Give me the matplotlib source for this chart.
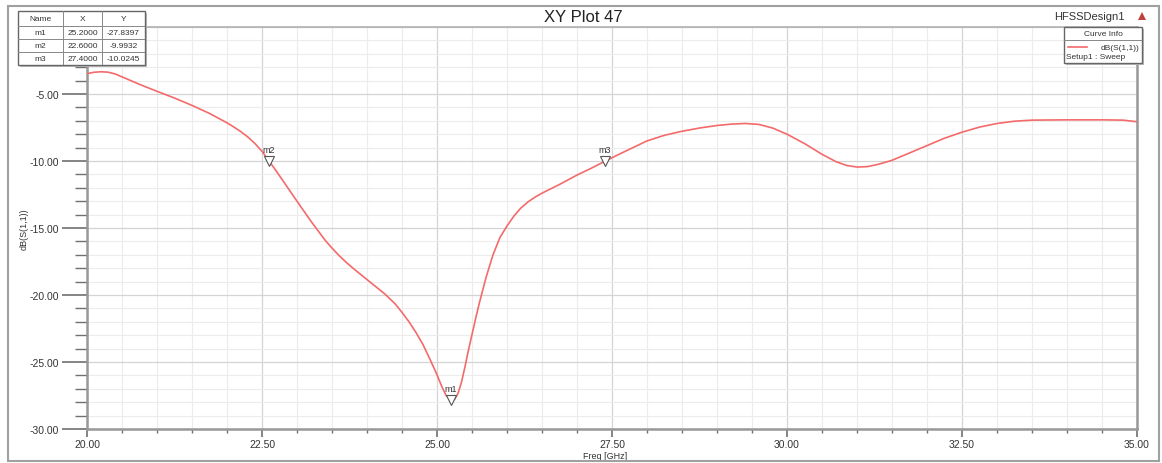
import matplotlib.pyplot as plt
from matplotlib.patches import Rectangle, Polygon
from matplotlib.ticker import MultipleLocator, FuncFormatter

plt.rcParams['font.family'] = ['Liberation Sans', 'DejaVu Sans']

# S11 curve
freq = [20.0, 20.1, 20.2, 20.3, 20.4, 20.5, 20.75, 21.0, 21.25, 21.5, 21.75,
        22.0, 22.1, 22.2, 22.3, 22.4, 22.5, 22.6, 22.7, 22.8, 23.0, 23.2, 23.4,
        23.5, 23.6, 23.7, 23.8, 24.0, 24.25, 24.4, 24.5, 24.6, 24.7, 24.8, 24.9,
        25.0, 25.07, 25.13, 25.2, 25.25, 25.3, 25.35, 25.4, 25.45, 25.5, 25.55,
        25.6, 25.7, 25.8, 25.9, 26.0, 26.1, 26.2, 26.3, 26.4, 26.5, 26.75, 27.0,
        27.2, 27.4, 27.6, 27.8, 28.0, 28.25, 28.5, 28.75, 29.0, 29.2, 29.4, 29.6,
        29.8, 30.0, 30.25, 30.5, 30.7, 30.85, 31.0, 31.15, 31.3, 31.5, 31.75,
        32.0, 32.25, 32.5, 32.75, 33.0, 33.25, 33.5, 34.0, 34.5, 34.8, 35.0]
s11 = [-3.48, -3.38, -3.34, -3.37, -3.5, -3.72, -4.28, -4.8, -5.3, -5.85, -6.45,
       -7.15, -7.47, -7.82, -8.22, -8.7, -9.28, -9.99, -10.72, -11.48, -13.0, -14.5, -15.9,
       -16.5, -17.05, -17.55, -18.0, -18.85, -19.9, -20.65, -21.3, -22.0, -22.8, -23.7, -24.8,
       -25.95, -26.85, -27.5, -27.84, -27.8, -27.35, -26.5, -25.35, -24.1, -22.95, -21.8,
       -20.7, -18.7, -17.0, -15.7, -14.85, -14.1, -13.5, -13.05, -12.7, -12.4, -11.75, -11.05,
       -10.55, -10.02, -9.5, -9.0, -8.5, -8.08, -7.78, -7.54, -7.35, -7.25, -7.2, -7.27,
       -7.55, -8.0, -8.7, -9.5, -10.05, -10.33, -10.45, -10.42, -10.25, -9.95, -9.4,
       -8.85, -8.3, -7.85, -7.47, -7.2, -7.03, -6.95, -6.93, -6.93, -6.95, -7.07]

marker_names = ['m1', 'm2', 'm3']
marker_x = [25.2, 22.6, 27.4]
marker_y = [-27.8397, -9.9932, -10.0245]

W, H = 1162, 464
fig = plt.figure(figsize=(W / 100, H / 100), dpi=100)


def fx(px):
    return px / W


def fy(py):
    return 1 - py / H


# outer frame
fig.patches.append(Rectangle((fx(8), fy(462)), fx(1159) - fx(8), fy(7) - fy(462),
                             transform=fig.transFigure, fill=False,
                             edgecolor='#a0a0a0', linewidth=1.5))

ax = fig.add_axes([fx(87), fy(430), fx(1137) - fx(87), fy(28) - fy(430)])
ax.plot(freq, s11, color='#f46a6a', lw=1.2, zorder=3)

ax.set_xlim(20, 35)
ax.set_ylim(-30, 0)
ax.xaxis.set_major_locator(MultipleLocator(2.5))
ax.xaxis.set_minor_locator(MultipleLocator(0.5))
ax.yaxis.set_major_locator(MultipleLocator(5))
ax.yaxis.set_minor_locator(MultipleLocator(1))
ax.xaxis.set_major_formatter(FuncFormatter(lambda v, p: '%.2f' % v))
ax.yaxis.set_major_formatter(FuncFormatter(lambda v, p: '' if v == 0 else '%.2f' % v))
ax.grid(which='major', color='#d4d4d4', lw=0.9)
ax.grid(which='minor', color='#ececec', lw=0.8)
ax.set_axisbelow(True)

ax.tick_params(axis='y', which='major', length=18, width=1.2, color='#707070',
               labelsize=7.5, labelcolor='#333333', pad=2)
ax.tick_params(axis='y', which='minor', length=9, width=1.0, color='#707070')
ax.tick_params(axis='x', which='major', length=6, width=1.2, color='#707070',
               labelsize=7.5, labelcolor='#333333', pad=1)
ax.tick_params(axis='x', which='minor', length=3, width=1.0, color='#707070')

for side in ['left', 'bottom', 'right']:
    ax.spines[side].set_color('#999999')
    ax.spines[side].set_linewidth(1.8)
ax.spines['top'].set_color('#b0b0b0')
ax.spines['top'].set_linewidth(1.2)

ax.set_ylabel('dB(S(1,1))', fontsize=6.5, color='#333333')
ax.yaxis.set_label_coords(-0.056, 0.5)
ax.set_xlabel('Freq [GHz]', fontsize=6.5, color='#333333')
ax.xaxis.set_label_coords(0.493, -0.055)

# markers
for name, mx, my in zip(marker_names, marker_x, marker_y):
    ax.plot(mx, my, marker='v', markersize=7, markerfacecolor='white',
            markeredgecolor='#555555', markeredgewidth=0.8, zorder=5)
    ax.annotate(name, (mx, my), xytext=(0, 5), textcoords='offset points',
                ha='center', va='bottom', fontsize=6.5, color='#333333', zorder=6)

fig.text(fx(583), fy(17), 'XY Plot 47', ha='center', va='center', fontsize=12,
         color='#222222')
fig.text(fx(1125), fy(17), 'HFSSDesign1', ha='right', va='center', fontsize=8,
         color='#333333')
fig.patches.append(Polygon([[fx(1138), fy(21)], [fx(1146), fy(21)], [fx(1142), fy(13)]],
                           closed=True, transform=fig.transFigure,
                           facecolor='#c04040', edgecolor='none'))

# marker table
tab = fig.add_axes([fx(18), fy(66), fx(145) - fx(18), fy(12) - fy(66)])
tab.set_xlim(18, 145)
tab.set_ylim(66, 12)
tab.axis('off')
tab.add_patch(Rectangle((20, 14), 127, 54, facecolor='#bbbbbb', edgecolor='none',
                        zorder=0, clip_on=False))
tab.add_patch(Rectangle((18, 12), 127, 54, facecolor='white', edgecolor='#666666',
                        lw=1.0, zorder=1, clip_on=False))
col_edges = [18, 63, 102, 145]
row_edges = [12, 27, 40, 53, 66]
for c in col_edges[1:-1]:
    tab.plot([c, c], [12, 66], color='#888888', lw=0.7, zorder=2)
for r in row_edges[1:-1]:
    tab.plot([18, 145], [r, r], color='#888888', lw=0.7, zorder=2)
rows = [['Name', 'X', 'Y']] + [[n, '%.4f' % x, '%.4f' % y]
                               for n, x, y in zip(marker_names, marker_x, marker_y)]
for i, row in enumerate(rows):
    yc = (row_edges[i] + row_edges[i + 1]) / 2
    for j, val in enumerate(row):
        xc = (col_edges[j] + col_edges[j + 1]) / 2
        tab.text(xc, yc, val, ha='center', va='center', fontsize=6,
                 color='#333333', zorder=3)

# curve info legend
leg = fig.add_axes([fx(1064), fy(64), fx(1142) - fx(1064), fy(28) - fy(64)])
leg.set_xlim(1064, 1142)
leg.set_ylim(64, 28)
leg.axis('off')
leg.add_patch(Rectangle((1066, 30), 78, 36, facecolor='#bbbbbb', edgecolor='none',
                        zorder=0, clip_on=False))
leg.add_patch(Rectangle((1064, 28), 78, 36, facecolor='white', edgecolor='#666666',
                        lw=1.0, zorder=1, clip_on=False))
leg.plot([1064, 1142], [41, 41], color='#888888', lw=0.7, zorder=2)
leg.text(1103, 35, 'Curve Info', ha='center', va='center', fontsize=6,
         color='#333333', zorder=3)
leg.plot([1068, 1087], [48, 48], color='#f46a6a', lw=1.2, zorder=3)
leg.text(1139, 48, 'dB(S(1,1))', ha='right', va='center', fontsize=6,
         color='#333333', zorder=3)
leg.text(1066, 57.5, 'Setup1 : Sweep', ha='left', va='center', fontsize=6,
         color='#333333', zorder=3)

fig.savefig('out.png', dpi=100)
